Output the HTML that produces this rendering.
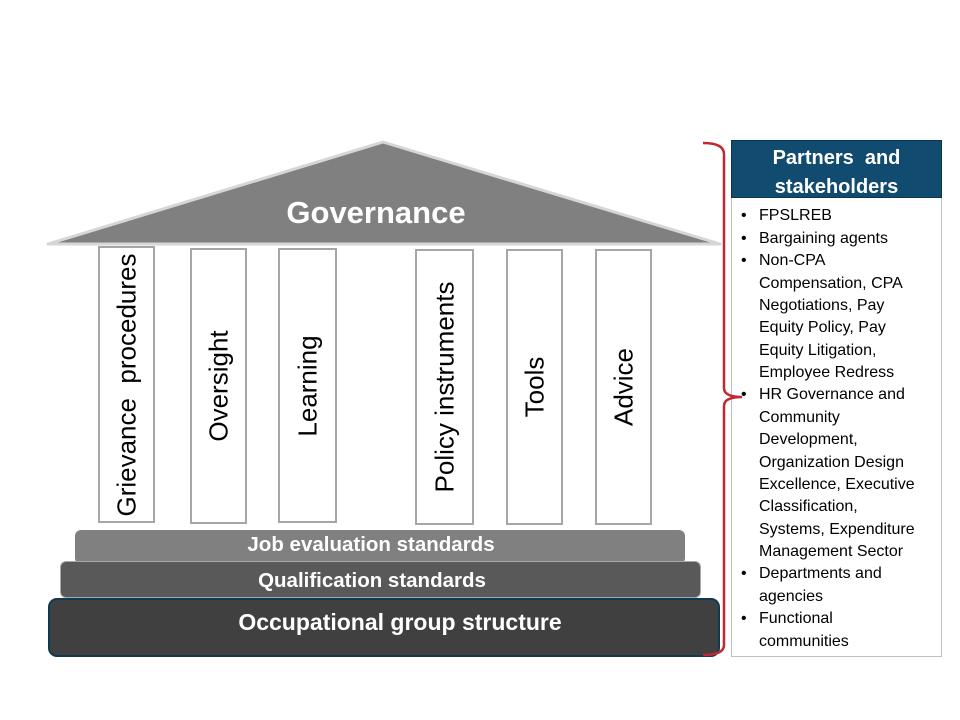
<!DOCTYPE html>
<html>
<head>
<meta charset="utf-8">
<style>
  html, body { margin:0; padding:0; }
  body { width:960px; height:720px; position:relative; background:#fff; overflow:hidden;
         font-family:"Liberation Sans", sans-serif; }
  .abs { position:absolute; }
  .pillar { position:absolute; background:#fff; border:2px solid #a6a6a6; box-sizing:border-box; }
  .pillar span { position:absolute; left:50%; top:50%; transform:translate(-50%,-50%) rotate(-90deg);
                 white-space:nowrap; font-size:26px; color:#000; }
  .bar { position:absolute; box-sizing:border-box; color:#fff; font-weight:bold; white-space:nowrap; }
  .bar span { position:absolute; top:0; transform:translateX(-50%); }
  .list { position:absolute; left:731px; top:198px; width:211px; height:459px; box-sizing:border-box;
          border:1px solid #bfbfbf; border-top:none; background:#fff; }
  .list .ln { position:absolute; left:27px; font-size:16px; color:#000; white-space:nowrap; line-height:20px; }
  .list .b { position:absolute; left:9px; font-size:16px; line-height:20px; }
</style>
</head>
<body>

<svg class="abs" style="left:0;top:0" width="960" height="720">
  <polygon points="48,244 383,142 720,244" fill="#808080" stroke="#d6d6d6" stroke-width="3" stroke-linejoin="round"/>
</svg>

<div class="abs" style="left:193px;top:193px;width:366px;text-align:center;color:#fff;font-weight:bold;font-size:31px;line-height:40px;">Governance</div>

<div class="pillar" style="left:98px;top:246px;width:57px;height:277px;"><span>Grievance&nbsp; procedures</span></div>
<div class="pillar" style="left:190px;top:248px;width:57px;height:276px;"><span>Oversight</span></div>
<div class="pillar" style="left:278px;top:248px;width:59px;height:275px;"><span>Learning</span></div>
<div class="pillar" style="left:415px;top:249px;width:59px;height:276px;"><span>Policy instruments</span></div>
<div class="pillar" style="left:506px;top:249px;width:57px;height:276px;"><span>Tools</span></div>
<div class="pillar" style="left:595px;top:249px;width:57px;height:276px;"><span>Advice</span></div>

<div class="bar" style="left:75px;top:530px;width:610px;height:34px;background:#808080;border-radius:6px;font-size:20.5px;line-height:30px;"><span style="left:296px">Job evaluation standards</span></div>
<div class="bar" style="left:60px;top:561px;width:641px;height:37px;background:#595959;border:1.5px solid #a8a8a8;border-radius:6px;font-size:20.5px;line-height:38px;"><span style="left:311px">Qualification standards</span></div>
<div class="bar" style="left:48px;top:598px;width:672px;height:59px;background:#404040;border:2.5px solid #0f3a52;border-radius:9px;font-size:23px;line-height:44px;"><span style="left:350px">Occupational group structure</span></div>

<div class="abs" style="left:731px;top:140px;width:211px;height:58px;background:#114b6f;border:1px solid #0b3550;box-sizing:border-box;color:#fff;font-weight:bold;font-size:20px;line-height:29px;text-align:center;padding-top:3px;">Partners&nbsp; and<br>stakeholders</div>

<div class="list">
  <div class="b" style="top:8px">•</div><div class="ln" style="top:8px">FPSLREB</div>
  <div class="b" style="top:31px">•</div><div class="ln" style="top:31px">Bargaining agents</div>
  <div class="b" style="top:53px">•</div><div class="ln" style="top:53px">Non-CPA</div>
  <div class="ln" style="top:76px">Compensation, CPA</div>
  <div class="ln" style="top:98px">Negotiations, Pay</div>
  <div class="ln" style="top:120px">Equity Policy, Pay</div>
  <div class="ln" style="top:143px">Equity Litigation,</div>
  <div class="ln" style="top:165px">Employee Redress</div>
  <div class="b" style="top:187px">•</div><div class="ln" style="top:187px">HR Governance and</div>
  <div class="ln" style="top:210px">Community</div>
  <div class="ln" style="top:232px">Development,</div>
  <div class="ln" style="top:255px">Organization Design</div>
  <div class="ln" style="top:277px">Excellence, Executive</div>
  <div class="ln" style="top:299px">Classification,</div>
  <div class="ln" style="top:322px">Systems, Expenditure</div>
  <div class="ln" style="top:344px">Management Sector</div>
  <div class="b" style="top:366px">•</div><div class="ln" style="top:366px">Departments and</div>
  <div class="ln" style="top:389px">agencies</div>
  <div class="b" style="top:411px">•</div><div class="ln" style="top:411px">Functional</div>
  <div class="ln" style="top:434px">communities</div>
</div>

<svg class="abs" style="left:0;top:0;z-index:5" width="960" height="720">
  <path d="M703,143 Q724,143 724,154 L724,388 Q724,397 742,397 Q724,397 724,406 L724,645 Q724,655 703,655"
        fill="none" stroke="#c3272f" stroke-width="2.5"/>
</svg>

</body>
</html>
